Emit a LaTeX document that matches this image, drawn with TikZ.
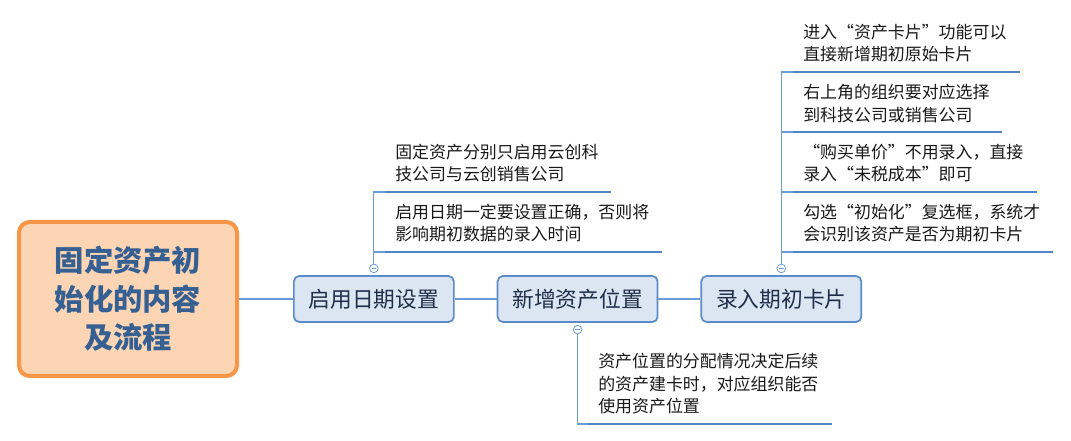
\documentclass[tikz,border=0pt]{standalone}
\usepackage{fontspec}
\setmainfont{Noto Sans CJK SC}
\usepackage{xcolor}
\usepackage{tikz}
\usetikzlibrary{positioning}
\definecolor{rootfill}{HTML}{FCD5B4}
\definecolor{rootdraw}{HTML}{F79646}
\definecolor{roottext}{HTML}{376092}
\definecolor{topicfill}{HTML}{DCE6F2}
\definecolor{topicdraw}{HTML}{5B8BC9}
\definecolor{topictext}{HTML}{1F2F4A}
\definecolor{linkblue}{HTML}{6A9BDB}
\definecolor{barblue}{HTML}{5585C8}
\tikzstyle{root} = [rectangle, rounded corners=8pt, minimum width=163.5pt, minimum height=115.5pt, line width=3pt, draw=rootdraw, fill=rootfill, text=roottext, align=center, font=\fontsize{22}{29}\selectfont\bfseries]
\tikzstyle{topic} = [rectangle, rounded corners=4pt, minimum width=120pt, minimum height=34.5pt, line width=1.3pt, draw=topicdraw, fill=topicfill, text=topictext, font=\fontsize{16.3}{20}\selectfont]
\tikzstyle{note} = [inner sep=0pt, align=left, text=black!90, font=\fontsize{12.7}{17}\selectfont]
\tikzstyle{link} = [draw=linkblue, line width=0.8pt]
\tikzstyle{bar} = [draw=barblue, line width=2.2pt]
\tikzstyle{fold} = [circle, draw=linkblue, fill=white, line width=0.6pt, inner sep=0pt, minimum size=6.5pt, path picture={\draw[linkblue, line width=0.5pt] ([xshift=1.5pt]path picture bounding box.west) -- ([xshift=-1.5pt]path picture bounding box.east);}]

\begin{document}
\begin{tikzpicture}[x=0.75pt, y=-0.75pt]
\useasboundingbox (0,0) rectangle (1071,441);

\node (root) [root] at (128,299) {固定资产初\\始化的内容\\及流程};
\node (date) [topic, right=40.5pt of root] {启用日期设置};
\node (place) [topic, right=31.5pt of date] {新增资产位置};
\node (card) [topic, right=31.5pt of place] {录入期初卡片};

\node (datefold) [fold, above=1.5pt of date] {};
\node (placefold) [fold, below=1.5pt of place] {};
\node (cardfold) [fold, above=1.5pt of card] {};

\coordinate (dateA) at (385,192);
\coordinate (dateB) at (385,252);
\coordinate (placeA) at (588,424);
\coordinate (cardA) at (793,72);
\coordinate (cardB) at (793,132);
\coordinate (cardC) at (793,192);
\coordinate (cardD) at (793,252);

\node (dateAtext) [note, above right=7pt and 7.5pt of dateA] {固定资产分别只启用云创科\\技公司与云创销售公司};
\node (dateBtext) [note, above right=7pt and 7.5pt of dateB] {启用日期一定要设置正确，否则将\\影响期初数据的录入时间};
\node (placeAtext) [note, above right=7pt and 7.5pt of placeA] {资产位置的分配情况决定后续\\的资产建卡时，对应组织能否\\使用资产位置};
\node (cardAtext) [note, above right=7pt and 7.5pt of cardA] {进入“资产卡片”功能可以\\直接新增期初原始卡片};
\node (cardBtext) [note, above right=7pt and 7.5pt of cardB] {右上角的组织要对应选择\\到科技公司或销售公司};
\node (cardCtext) [note, above right=7pt and 7.5pt of cardC] {“购买单价”不用录入，直接\\录入“未税成本”即可};
\node (cardDtext) [note, above right=7pt and 7.5pt of cardD] {勾选“初始化”复选框，系统才\\会识别该资产是否为期初卡片};

\draw [link] (root) -- (date);
\draw [link] (date) -- (place);
\draw [link] (place) -- (card);

\draw [link] (datefold) |- (dateA);
\draw [link] (datefold) |- (dateB);
\draw [link] (placefold) |- (placeA);
\draw [link] (cardfold) |- (cardA);
\draw [link] (cardfold) |- (cardB);
\draw [link] (cardfold) |- (cardC);
\draw [link] (cardfold) |- (cardD);

\draw [bar] (dateA) -- ++(226,0);
\draw [bar] (dateB) -- ++(277,0);
\draw [bar] (placeA) -- ++(244,0);
\draw [bar] (cardA) -- ++(227,0);
\draw [bar] (cardB) -- ++(209,0);
\draw [bar] (cardC) -- ++(244,0);
\draw [bar] (cardD) -- ++(260,0);

\end{tikzpicture}
\end{document}
